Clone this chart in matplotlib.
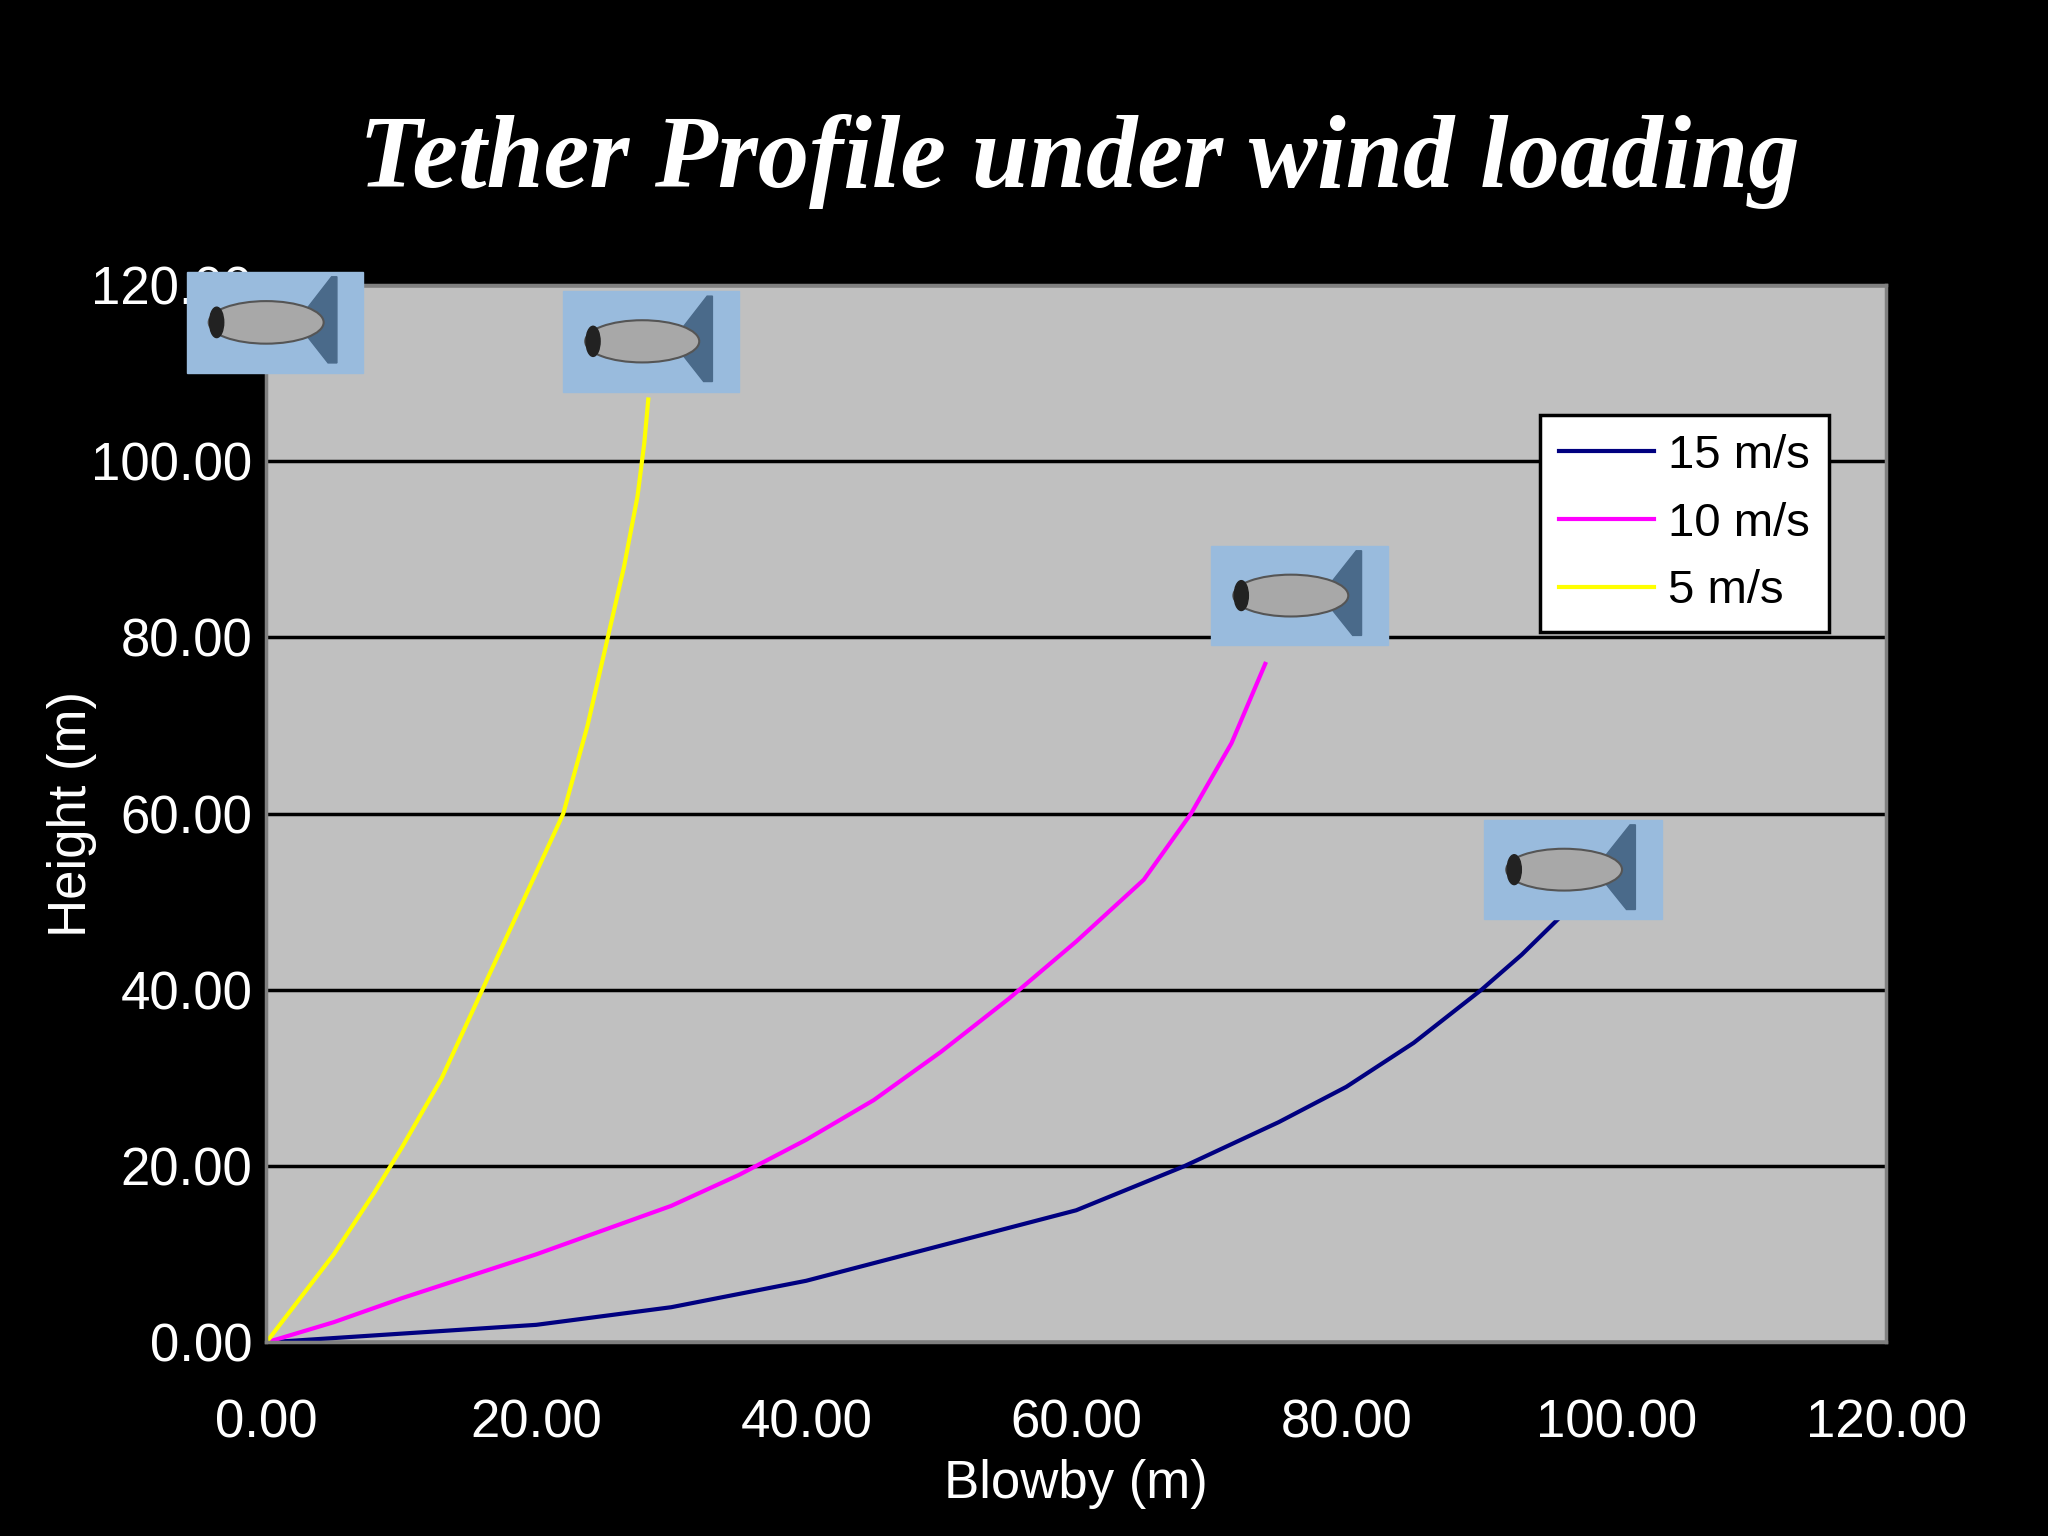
import matplotlib.pyplot as plt
from matplotlib.patches import Rectangle, Ellipse, Polygon

plt.rcParams["font.family"] = ["Liberation Sans", "DejaVu Sans"]

x_5 = [0, 2, 5, 8, 10, 13, 16, 19, 22, 23.8, 25.3, 26.5, 27.5, 28.0, 28.3]
y_5 = [0, 4, 10, 17, 22, 30, 40, 50, 60, 70, 80, 88, 96, 102, 107]
x_10 = [0, 5, 10, 20, 30, 35, 40, 45, 50, 55, 60, 65, 68.5, 71.5, 74]
y_10 = [0, 2.3, 5, 10, 15.5, 19, 23, 27.5, 33, 39, 45.5, 52.5, 60, 68, 77]
x_15 = [0, 10, 20, 30, 40, 50, 60, 68, 75, 80, 85, 90, 93, 96]
y_15 = [0, 1, 2, 4, 7, 11, 15, 20, 25, 29, 34, 40, 44, 48.5]

# blimp icon boxes: (x0, x1, y0, y1) in data units
icons = [(-5.9, 7.2, 110, 121.5), (22, 35, 107.9, 119.3),
         (70, 83.1, 79.1, 90.4), (90.2, 103.4, 48, 59.3)]

fig = plt.figure(figsize=(20.48, 15.36), dpi=100, facecolor="black")
ax = fig.add_axes([0.130, 0.126, 0.791, 0.6885])
ax.set_facecolor("#c0c0c0")

ax.plot(x_15, y_15, color="#000080", lw=3, label="15 m/s")
ax.plot(x_10, y_10, color="#ff00ff", lw=3, label="10 m/s")
ax.plot(x_5, y_5, color="#ffff00", lw=3, label="5 m/s")

ax.set_xlim(0, 120)
ax.set_ylim(0, 120)
ax.set_xticks(range(0, 121, 20))
ax.set_yticks(range(0, 121, 20))
ax.set_xticklabels([f"{v:.2f}" for v in range(0, 121, 20)])
ax.set_yticklabels([f"{v:.2f}" for v in range(0, 121, 20)])
ax.tick_params(colors="white", labelsize=38, length=0)
ax.tick_params(axis="x", pad=40)
ax.tick_params(axis="y", pad=10)
ax.yaxis.grid(True, color="black", lw=2.5)
ax.set_axisbelow(True)
for s in ax.spines.values():
    s.set_color("#808080")
    s.set_linewidth(2.5)

ax.set_xlabel("Blowby (m)", color="white", fontsize=38, labelpad=8)
ax.set_ylabel("Height (m)", color="white", fontsize=38, labelpad=-4)

for x0, x1, y0, y1 in icons:
    w, h = x1 - x0, y1 - y0
    ax.add_patch(Rectangle((x0, y0), w, h, color="#99bbdd", clip_on=False, zorder=5))
    cx, cy = x0 + w * 0.45, y0 + h * 0.5
    ax.add_patch(Polygon([(x0 + w * 0.62, cy), (x0 + w * 0.82, y0 + h * 0.95),
                          (x0 + w * 0.85, y0 + h * 0.95), (x0 + w * 0.85, y0 + h * 0.1),
                          (x0 + w * 0.8, y0 + h * 0.1)],
                         color="#4a6a8a", clip_on=False, zorder=6))
    ax.add_patch(Ellipse((cx, cy), w * 0.65, h * 0.42, color="#a8a8a8",
                         ec="#555555", lw=1.5, clip_on=False, zorder=7))
    ax.add_patch(Ellipse((x0 + w * 0.17, cy), w * 0.08, h * 0.3, color="#222222",
                         clip_on=False, zorder=8))

leg = ax.legend(loc="upper right", bbox_to_anchor=(0.9645, 0.877), fontsize=34,
                frameon=True, fancybox=False, handlelength=2.0, borderpad=0.4,
                labelspacing=0.5, handletextpad=0.3, borderaxespad=0)
leg.get_frame().set_edgecolor("black")
leg.get_frame().set_linewidth(2.5)
leg.get_frame().set_facecolor("white")
leg.get_frame().set_alpha(1)

fig.text(0.527, 0.895, "Tether Profile under wind loading", color="white",
         fontsize=74, fontweight="bold", fontstyle="italic",
         family="Liberation Serif", ha="center", va="center")

fig.savefig("out.png", dpi=100, facecolor="black")
